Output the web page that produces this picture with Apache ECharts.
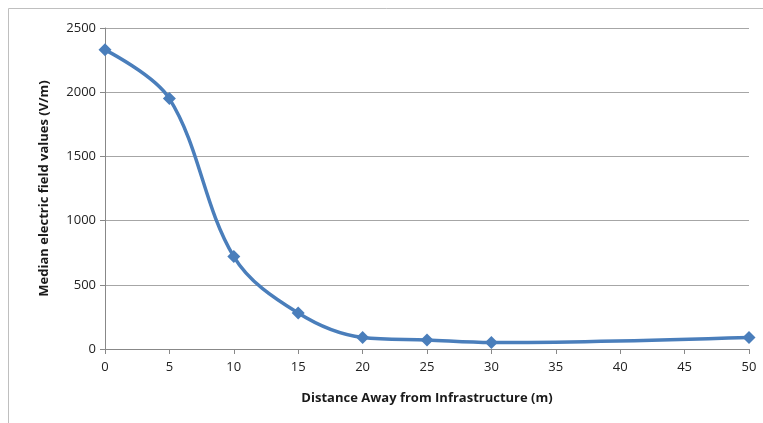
<!DOCTYPE html>
<html><head><meta charset="utf-8">
<script src="https://cdn.jsdelivr.net/npm/echarts@6/dist/echarts.min.js"></script>
<style>html,body{margin:0;padding:0;background:#fff}#c{width:763px;height:423px}</style>
</head><body><div id="c"></div>
<script>
var distances = [0, 5, 10, 15, 20, 25, 30, 50];
var fieldValues = [2330, 1950, 720, 280, 90, 70, 50, 90];
var xTitle = 'Distance Away from Infrastructure (m)';
var yTitle = 'Median electric field values (V/m)';

var chart = echarts.init(document.getElementById('c'));
chart.setOption({
  animation: false,
  graphic: [{type:'rect', shape:{x:8.5,y:8.5,width:800,height:420}, style:{fill:'none', stroke:'#bfbfbf', lineWidth:1}}],
  grid: {left:105, right:14, top:28, bottom:74},
  xAxis: {
    type:'value', min:0, max:50, interval:5,
    name: xTitle, nameLocation:'middle', nameGap:43,
    nameTextStyle:{fontFamily:'Open Sans', fontWeight:'bold', fontSize:13, color:'#1a1a1a'},
    axisLine:{show:true, lineStyle:{color:'#888'}},
    axisTick:{show:true, length:5, lineStyle:{color:'#888'}},
    axisLabel:{fontFamily:'Open Sans', fontSize:13, color:'#222', margin:12, formatter:function(v){return String(v);}},
    splitLine:{show:false}
  },
  yAxis: {
    type:'value', min:0, max:2500, interval:500,
    name: yTitle, nameLocation:'middle', nameGap:54,
    nameTextStyle:{fontFamily:'Open Sans', fontWeight:'bold', fontSize:13, color:'#1a1a1a'},
    axisLine:{show:true, lineStyle:{color:'#888'}},
    axisTick:{show:true, length:5, lineStyle:{color:'#888'}},
    axisLabel:{fontFamily:'Open Sans', fontSize:13, color:'#222', margin:9, formatter:function(v){return String(v);}},
    splitLine:{show:true, lineStyle:{color:'#a6a6a6'}}
  },
  series: [{
    type:'line', smooth:0.35,
    data: distances.map(function(d,i){return [d, fieldValues[i]];}),
    symbol:'diamond', symbolSize:13,
    lineStyle:{color:'#4a7ebb', width:3.5},
    itemStyle:{color:'#4a7ebb'}
  }]
});
</script></body></html>
